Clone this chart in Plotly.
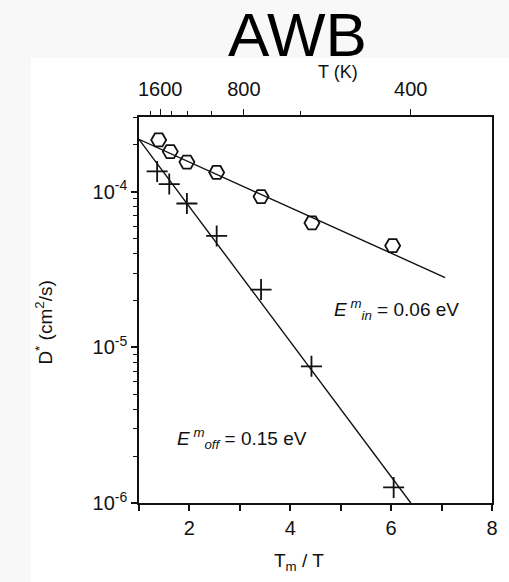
import plotly.graph_objects as go

# ---- data ----
tm_over_t_in = [1.39, 1.62, 1.95, 2.54, 3.42, 4.43, 6.03]
d_in = [2.15e-4, 1.81e-4, 1.55e-4, 1.33e-4, 9.3e-5, 6.3e-5, 4.5e-5]

tm_over_t_off = [1.36, 1.60, 1.95, 2.54, 3.42, 4.42, 6.05]
d_off = [1.35e-4, 1.12e-4, 8.4e-5, 5.2e-5, 2.35e-5, 7.55e-6, 1.26e-6]

fit_in_x = [1.0, 7.07]
fit_in_y = [2.17e-4, 2.81e-5]
fit_off_x = [1.0, 6.39]
fit_off_y = [2.17e-4, 1.0e-6]

x_tick_vals = [1, 2, 3, 4, 5, 6, 7, 8]
x_tick_text = ["", "2", "", "4", "", "6", "", "8"]

y_tick_vals = [1e-6, 1e-5, 1e-4]
y_tick_text = ["10<sup>-6</sup>", "10<sup>-5</sup>", "10<sup>-4</sup>"]

# top axis: temperature (K) labels at their Tm/T positions
top_major_pos = [1.42, 3.08, 6.39]
top_major_text = ["1600", "800", "400"]
top_minor_pos = [1.22, 1.65, 1.97, 2.43, 4.20]

FONT = "Liberation Sans, Arial, Helvetica, sans-serif"
INK = "#111111"

y_minor = [m * 10 ** e for e in (-6, -5, -4) for m in range(2, 10)]

fig = go.Figure()

fig.add_trace(go.Scatter(x=fit_in_x, y=fit_in_y, mode="lines",
                         line=dict(color=INK, width=1.4), showlegend=False, hoverinfo="skip"))
fig.add_trace(go.Scatter(x=fit_off_x, y=fit_off_y, mode="lines",
                         line=dict(color=INK, width=1.4), showlegend=False, hoverinfo="skip"))
fig.add_trace(go.Scatter(x=tm_over_t_in, y=d_in, mode="markers",
                         marker=dict(symbol="hexagon2-open", size=15, color=INK,
                                     line=dict(width=1.8, color=INK)),
                         showlegend=False))
fig.add_trace(go.Scatter(x=tm_over_t_off, y=d_off, mode="markers",
                         marker=dict(symbol="cross-thin-open", size=15, color=INK,
                                     line=dict(width=1.8, color=INK)),
                         showlegend=False))
# invisible trace so the top axis is drawn
fig.add_trace(go.Scatter(x=[1, 8], y=[1e-5, 1e-5], xaxis="x2", mode="markers",
                         marker=dict(opacity=0), showlegend=False, hoverinfo="skip"))

fig.update_layout(
    width=509, height=582,
    margin=dict(l=139, r=11, t=117, b=79),
    paper_bgcolor="#f8f8f8",
    plot_bgcolor="white",
    font=dict(family=FONT, color=INK, size=19),
    xaxis=dict(range=[1, 8], showgrid=False, zeroline=False,
               showline=True, linecolor=INK, linewidth=1.5, mirror=False,
               ticks="outside", ticklen=6, tickwidth=1.5, tickcolor=INK,
               tickmode="array", tickvals=x_tick_vals, ticktext=x_tick_text,
               tickfont=dict(size=20, family=FONT, color=INK)),
    xaxis2=dict(range=[1, 8], overlaying="x", side="top", showgrid=False, zeroline=False,
                showline=True, linecolor=INK, linewidth=1.5,
                ticks="outside", ticklen=6, tickwidth=1.3, tickcolor=INK,
                tickmode="array", tickvals=top_major_pos, ticktext=top_major_text,
                ticklabelstandoff=5,
                tickfont=dict(size=20, family=FONT, color=INK),
                minor=dict(tickmode="array", tickvals=top_minor_pos, ticks="outside",
                           ticklen=4, tickwidth=1.2, tickcolor=INK)),
    yaxis=dict(type="log", range=[-6, -3.52], showgrid=False, zeroline=False,
               showline=True, linecolor=INK, linewidth=1.5, mirror=True,
               ticks="outside", ticklen=6, tickwidth=1.5, tickcolor=INK,
               tickmode="array", tickvals=y_tick_vals, ticktext=y_tick_text,
               tickfont=dict(size=20, family=FONT, color=INK),
               minor=dict(tickmode="array", tickvals=y_minor, ticks="outside",
                          ticklen=4, tickwidth=1.2, tickcolor=INK)),
    shapes=[dict(type="rect", xref="paper", yref="paper", layer="below",
                 x0=-0.3064, x1=1.05, y0=-0.25, y1=1.1528,
                 fillcolor="white", line=dict(width=0))],
)

def px_x(p):
    return (p - 139) / 359.0

def px_y(p):
    return 1 - (p - 117) / 386.0

ann = [
    dict(text="AWB", x=px_x(300), y=px_y(34), xref="paper", yref="paper",
         xanchor="center", yanchor="middle", showarrow=False,
         font=dict(size=62, family=FONT, color="black")),
    dict(text="T (K)", x=px_x(341), y=px_y(72), xref="paper", yref="paper",
         xanchor="center", yanchor="middle", showarrow=False,
         font=dict(size=18, family=FONT, color=INK)),
    dict(text="T<sub>m</sub> / T", x=px_x(302), y=px_y(562), xref="paper", yref="paper",
         xanchor="center", yanchor="middle", showarrow=False,
         font=dict(size=19, family=FONT, color=INK)),
    dict(text="D<sup>*</sup> (cm<sup>2</sup>/s)", x=px_x(42), y=px_y(323),
         xref="paper", yref="paper", textangle=-90,
         xanchor="center", yanchor="middle", showarrow=False,
         font=dict(size=19, family=FONT, color=INK)),
    dict(text="<i>E</i><sup> <i>m</i></sup><sub><i>in</i></sub> = 0.06 eV",
         x=px_x(335), y=px_y(309), xref="paper", yref="paper",
         xanchor="left", yanchor="middle", showarrow=False,
         font=dict(size=19, family=FONT, color=INK)),
    dict(text="<i>E</i><sup> <i>m</i></sup><sub><i>off</i></sub> = 0.15 eV",
         x=px_x(176), y=px_y(438), xref="paper", yref="paper",
         xanchor="left", yanchor="middle", showarrow=False,
         font=dict(size=19, family=FONT, color=INK)),
]
fig.update_layout(annotations=ann)

fig.write_html("out.html")
